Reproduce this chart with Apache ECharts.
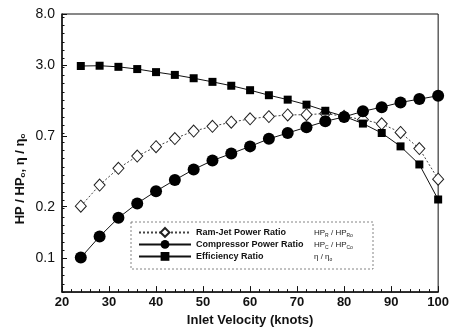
<!DOCTYPE html>
<html>
<head>
<meta charset="utf-8">
<script src="https://cdn.jsdelivr.net/npm/echarts@6/dist/echarts.min.js"></script>
<style>
html,body{margin:0;padding:0;background:#fff;}
#c{width:452px;height:332px;}
</style>
</head>
<body>
<div id="c"></div>
<script>
// Inlet velocity (knots)
const knots = [24, 28, 32, 36, 40, 44, 48, 52, 56, 60, 64, 68, 72, 76, 80, 84, 88, 92, 96, 100];
// Values on the chart's (non-uniform) vertical scale, internal units 0..100
const ramJet      = [30.9, 38.5, 44.5, 48.9, 52.3, 55.2, 57.9, 59.6, 61.1, 62.3, 63.1, 63.7, 63.8, 64.2, 63.2, 62.0, 60.5, 57.4, 51.6, 40.6];
const compressor  = [12.4, 20.0, 26.7, 31.9, 36.3, 40.3, 44.1, 47.3, 49.8, 52.4, 55.1, 57.2, 59.3, 61.4, 63.0, 65.0, 66.5, 68.2, 69.4, 70.6];
const efficiency  = [81.3, 81.4, 81.0, 80.2, 79.1, 78.1, 76.9, 75.6, 74.2, 72.6, 70.8, 69.2, 67.4, 65.2, 63.2, 60.6, 57.2, 52.4, 45.9, 33.3];
// Y tick labels and where they sit on the internal scale
const yTickValues = [12.1, 30.7, 56.0, 81.5, 100];
const yTickLabels = ['0.1', '0.2', '0.7', '3.0', '8.0'];
const seriesNames = ['Ram-Jet Power Ratio', 'Compressor Power Ratio', 'Efficiency Ratio'];

const FONT = '"Liberation Sans", Arial, sans-serif';
const chart = echarts.init(document.getElementById('c'), null, {renderer: 'canvas'});

const formula = {
  'Ram-Jet Power Ratio': '{f|HP}{s|R}{f| / HP}{s|Ro}',
  'Compressor Power Ratio': '{f|HP}{s|C}{f| / HP}{s|Co}',
  'Efficiency Ratio': '{f|η / η}{s|o}'
};
const labelMap = {};
yTickValues.forEach((v, i) => { labelMap[v.toFixed(1)] = yTickLabels[i]; });

const option = {
  animation: false,
  backgroundColor: '#fff',
  grid: {left: 62, right: 13, top: 14, bottom: 39, show: true, borderColor: '#111', borderWidth: 1},
  xAxis: {
    type: 'value', min: 20, max: 100, interval: 10,
    axisLine: {show: true, lineStyle: {color: '#111', width: 1.5}},
    axisTick: {show: true, inside: true, length: 6, lineStyle: {color: '#111'}},
    minorTick: {show: true, splitNumber: 5, length: 3, lineStyle: {color: '#111'}},
    splitLine: {show: false},
    axisLabel: {color: '#111', fontFamily: FONT, fontWeight: 'bold', fontSize: 13, margin: 4},
    name: 'Inlet Velocity (knots)', nameLocation: 'middle', nameGap: 19,
    nameTextStyle: {color: '#111', fontFamily: FONT, fontWeight: 'bold', fontSize: 13}
  },
  yAxis: [{
    type: 'value', min: 0, max: 100,
    axisLine: {show: true, lineStyle: {color: '#111', width: 1.5}},
    axisTick: {show: true, inside: true, length: 5, customValues: yTickValues, lineStyle: {color: '#111'}},
    splitLine: {show: false},
    axisLabel: {
      customValues: yTickValues, color: '#111', fontFamily: FONT, fontSize: 14, margin: 7,
      formatter: v => labelMap[Number(v).toFixed(1)] || ''
    }
  }, {
    type: 'value', min: 0, max: 100, interval: 3, position: 'left',
    axisLine: {show: false},
    axisTick: {show: true, inside: true, length: 2.5, lineStyle: {color: '#111'}},
    axisLabel: {show: false}, splitLine: {show: false}
  }],
  legend: {
    orient: 'vertical', left: 138, top: 227, padding: 0, itemGap: 2,
    itemWidth: 52, itemHeight: 11,
    data: seriesNames,
    formatter: name => '{n|' + name + '}' + formula[name],
    textStyle: {
      color: '#111', fontFamily: FONT,
      rich: {
        n: {width: 118, fontSize: 9, fontWeight: 'bold', fontFamily: FONT, color: '#111', lineHeight: 11},
        f: {fontSize: 8, fontFamily: FONT, color: '#222', lineHeight: 11},
        s: {fontSize: 5, fontFamily: FONT, color: '#222', verticalAlign: 'bottom', lineHeight: 11, padding: [4, 0, 0, 0]}
      }
    }
  },
  graphic: [
    {type: 'rect', shape: {x: 131, y: 222, width: 242, height: 47}, silent: true, z: 1,
      style: {fill: 'none', stroke: '#666', lineWidth: 0.8, lineDash: [2, 2]}},
    {type: 'text', x: 20, y: 179, rotation: Math.PI / 2, z: 10,
      style: {
        text: '{b|HP / HP}{s|o}{b|, η / η}{s|o}',
        align: 'center', verticalAlign: 'middle',
        rich: {
          b: {fontFamily: FONT, fontWeight: 'bold', fontSize: 13, fill: '#111'},
          s: {fontFamily: FONT, fontWeight: 'bold', fontSize: 8, fill: '#111', padding: [6, 0, 0, 0]}
        }
      }}
  ],
  series: [
    {
      name: seriesNames[0], type: 'line', data: knots.map((k, i) => [k, ramJet[i]]),
      symbol: 'diamond', symbolSize: [11, 12],
      itemStyle: {color: '#fff', borderColor: '#222', borderWidth: 1},
      lineStyle: {color: '#444', width: 1, type: [2, 2]}, z: 3
    },
    {
      name: seriesNames[1], type: 'line', data: knots.map((k, i) => [k, compressor[i]]),
      symbol: 'circle', symbolSize: 12,
      itemStyle: {color: '#000'},
      lineStyle: {color: '#111', width: 1}, z: 4
    },
    {
      name: seriesNames[2], type: 'line', data: knots.map((k, i) => [k, efficiency[i]]),
      symbol: 'rect', symbolSize: 8,
      itemStyle: {color: '#000'},
      lineStyle: {color: '#111', width: 1}, z: 5
    }
  ]
};
chart.setOption(option);
</script>
</body>
</html>
